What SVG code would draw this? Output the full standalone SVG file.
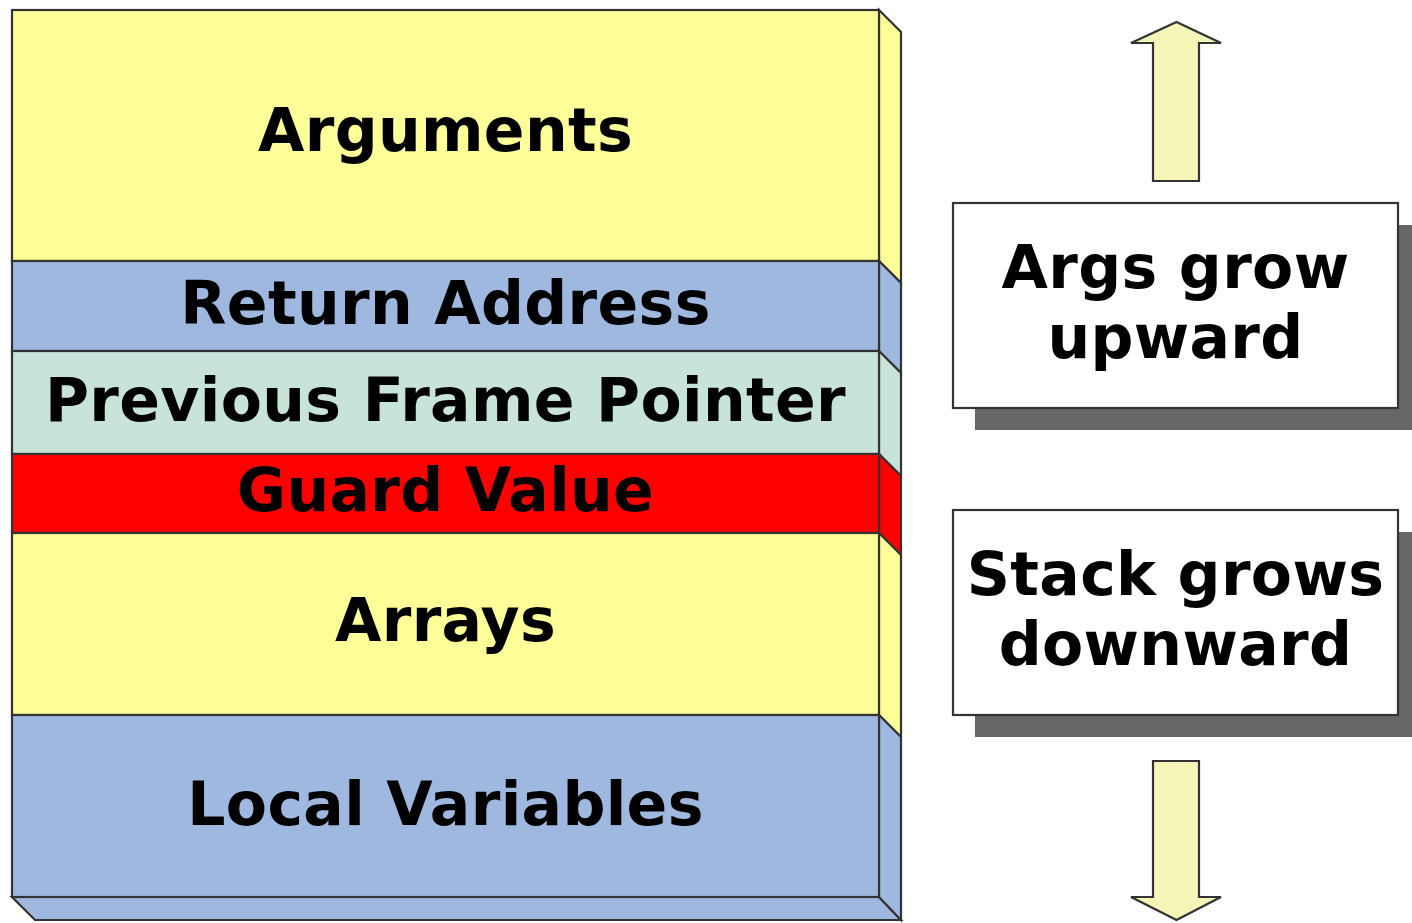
<svg xmlns="http://www.w3.org/2000/svg" width="1412" height="923" viewBox="0 0 1412 923">
  <style>
    .edge { stroke: #333333; stroke-width: 2.2; stroke-linejoin: miter; }
    .yellow { fill: #FFFF99; }
    .blue { fill: #9FB8DF; }
    .mint { fill: #C8E3D7; }
    .red { fill: #FF0000; }
    .label { font-family: "DejaVu Sans", Verdana, sans-serif; font-weight: bold; font-size: 60px; letter-spacing: 0.35px; fill: #000; text-anchor: middle; }
    .note { fill: #FFFFFF; stroke: #333333; stroke-width: 2.2; }
    .shadow { fill: #666666; }
    .arrow { fill: #F4F5B6; stroke: #333333; stroke-width: 2.2; stroke-linejoin: miter; }
  </style>

  <!-- Stack frame: front faces, right side faces and bottom face -->
  <g id="frame-bottom">
    <polygon class="blue edge" points="12,897 879,897 901,920 35,920"/>
  </g>

  <g id="arguments">
    <polygon class="yellow edge" points="879,10 901,32 901,283 879,261"/>
    <rect class="yellow edge" x="12" y="10" width="867" height="251"/>
    <text class="label" x="445.5" y="151">Arguments</text>
  </g>

  <g id="return-address">
    <polygon class="blue edge" points="879,261 901,283 901,373 879,351"/>
    <rect class="blue edge" x="12" y="261" width="867" height="90"/>
    <text class="label" x="445.5" y="324">Return Address</text>
  </g>

  <g id="previous-frame-pointer">
    <polygon class="mint edge" points="879,351 901,373 901,476 879,454"/>
    <rect class="mint edge" x="12" y="351" width="867" height="103"/>
    <text class="label" x="445.5" y="421">Previous Frame Pointer</text>
  </g>

  <g id="guard-value">
    <polygon class="red edge" points="879,454 901,476 901,555 879,533"/>
    <rect class="red edge" x="12" y="454" width="867" height="79"/>
    <text class="label" x="445.5" y="511">Guard Value</text>
  </g>

  <g id="arrays">
    <polygon class="yellow edge" points="879,533 901,555 901,737 879,715"/>
    <rect class="yellow edge" x="12" y="533" width="867" height="182"/>
    <text class="label" x="445.5" y="641">Arrays</text>
  </g>

  <g id="local-variables">
    <polygon class="blue edge" points="879,715 901,737 901,920 879,897"/>
    <rect class="blue edge" x="12" y="715" width="867" height="182"/>
    <text class="label" x="445.5" y="825">Local Variables</text>
  </g>

  <!-- Growth direction notes -->
  <g id="args-grow-upward">
    <rect class="shadow" x="975" y="225" width="445" height="205"/>
    <rect class="note" x="953" y="203" width="445" height="205"/>
    <text class="label" x="1175.5" y="288">Args grow</text>
    <text class="label" x="1175.5" y="358">upward</text>
  </g>

  <g id="stack-grows-downward">
    <rect class="shadow" x="975" y="532" width="445" height="205"/>
    <rect class="note" x="953" y="510" width="445" height="205"/>
    <text class="label" x="1175.5" y="595">Stack grows</text>
    <text class="label" x="1175.5" y="665">downward</text>
  </g>

  <!-- Direction arrows -->
  <g id="connectors">
    <polygon class="arrow" points="1176.5,22 1221,43 1199,43 1199,181 1153,181 1153,43 1131,43"/>
    <polygon class="arrow" points="1153,761 1199,761 1199,897 1221,897 1176.5,920 1131,897 1153,897"/>
  </g>
</svg>
